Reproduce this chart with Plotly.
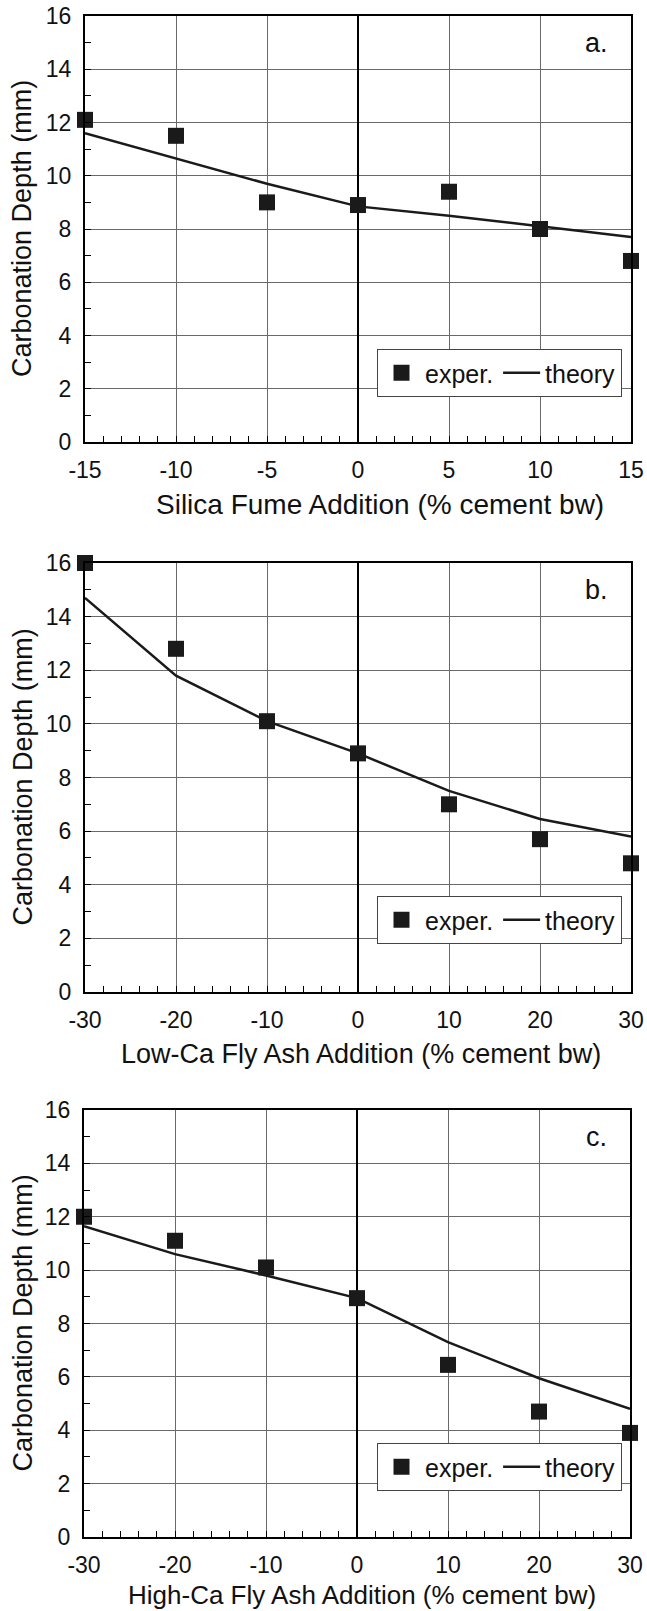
import plotly.graph_objects as go

# ---- data ----
x_a = [-15, -10, -5, 0, 5, 10, 15]
exp_a = [12.1, 11.5, 9.0, 8.9, 9.4, 8.0, 6.8]
th_a = [11.6, 10.65, 9.7, 8.85, 8.5, 8.1, 7.7]

x_b = [-30, -20, -10, 0, 10, 20, 30]
exp_b = [16.0, 12.8, 10.1, 8.9, 7.0, 5.7, 4.8]
th_b = [14.7, 11.8, 10.1, 8.9, 7.5, 6.45, 5.8]

x_c = [-30, -20, -10, 0, 10, 20, 30]
exp_c = [12.0, 11.1, 10.1, 8.95, 6.45, 4.7, 3.9]
th_c = [11.65, 10.6, 9.8, 8.95, 7.3, 5.95, 4.8]

xticks_a = [-15, -10, -5, 0, 5, 10, 15]
xticklabels_a = ["-15", "-10", "-5", "0", "5", "10", "15"]
xticks_bc = [-30, -20, -10, 0, 10, 20, 30]
xticklabels_bc = ["-30", "-20", "-10", "0", "10", "20", "30"]

x_titles = ["Silica Fume Addition (% cement bw)",
            "Low-Ca Fly Ash Addition (% cement bw)",
            "High-Ca Fly Ash Addition (% cement bw)"]
y_title = "Carbonation Depth (mm)"
panel_labels = ["a.", "b.", "c."]

W, H = 647, 1611
FONT = "Liberation Sans, Arial, sans-serif"
INK = "#1a1a1a"

# plot-area pixel boxes (left, right, top, bottom)
boxes = [(85, 631, 16, 442), (85, 631, 563, 992), (84, 630, 1110, 1537)]
title_cx = [380, 361, 362]
title_size = [28, 27, 26]
title_off = [62, 62, 58]

def px(x):
    return x / W

def py(y):
    return 1 - y / H

fig = go.Figure()
panels = [(x_a, exp_a, th_a, 15, xticks_a, xticklabels_a, 1),
          (x_b, exp_b, th_b, 30, xticks_bc, xticklabels_bc, 2),
          (x_c, exp_c, th_c, 30, xticks_bc, xticklabels_bc, 2)]

annotations = []
for i, ((xs, ex, th, xr, tv, tt, xminor), box) in enumerate(zip(panels, boxes)):
    n = "" if i == 0 else str(i + 1)
    xa, ya = "x" + n, "y" + n
    lg = "legend" + n
    l, r, t, b = box
    fig.add_trace(go.Scatter(x=xs, y=th, mode="lines", name="theory",
                             line=dict(color=INK, width=2.5), xaxis=xa, yaxis=ya,
                             legend=lg, legendrank=2, cliponaxis=False))
    fig.add_trace(go.Scatter(x=xs, y=ex, mode="markers", name="exper.",
                             marker=dict(symbol="square", size=16, color=INK),
                             xaxis=xa, yaxis=ya, legend=lg, legendrank=1, cliponaxis=False))
    common = dict(showline=True, linecolor="black", linewidth=2, mirror=True,
                  showgrid=True, gridcolor="#6a6a6a", gridwidth=1,
                  ticks="inside", ticklen=6, tickcolor="black", tickwidth=1,
                  tickfont=dict(family=FONT, size=23, color="#111"),
                  layer="above traces", automargin=False, ticklabeloverflow="allow")
    fig.layout["xaxis" + n] = dict(
        common, domain=[px(l), px(r)], anchor=ya, range=[-xr, xr],
        tickmode="array", tickvals=tv, ticktext=tt,
        zeroline=True, zerolinecolor="black", zerolinewidth=2,
        minor=dict(dtick=xminor, tick0=0, ticks="inside", ticklen=6, tickcolor="black", showgrid=False),
        ticklabelstandoff=6)
    fig.layout["yaxis" + n] = dict(
        common, domain=[py(b), py(t)], anchor=xa, range=[0, 16], dtick=2,
        zeroline=False,
        minor=dict(dtick=1, ticks="inside", ticklen=6, tickcolor="black", showgrid=False),
        ticklabelstandoff=7)
    fig.layout[lg] = dict(
        orientation="h", x=px(622), xanchor="right", y=py(t + 333), yanchor="top",
        bgcolor="white", bordercolor="#444", borderwidth=1,
        font=dict(family=FONT, size=25, color="#111"), itemwidth=37,
        traceorder="normal")
    annotations.append(dict(text=x_titles[i], x=px(title_cx[i]), y=py(b + title_off[i]),
                            xref="paper", yref="paper", showarrow=False,
                            xanchor="center", yanchor="middle",
                            font=dict(family=FONT, size=title_size[i], color="#111")))
    annotations.append(dict(text=y_title, x=px(22), y=py((t + b) / 2),
                            xref="paper", yref="paper", showarrow=False, textangle=-90,
                            xanchor="center", yanchor="middle",
                            font=dict(family=FONT, size=27, color="#111")))
    annotations.append(dict(text=panel_labels[i], x=px(596), y=py(t + 27),
                            xref="paper", yref="paper", showarrow=False,
                            xanchor="center", yanchor="middle",
                            font=dict(family=FONT, size=27, color="#111")))

fig.update_layout(width=W, height=H, margin=dict(l=0, r=0, t=0, b=0),
                  plot_bgcolor="white", paper_bgcolor="white",
                  annotations=annotations)
fig.write_html("out.html")
